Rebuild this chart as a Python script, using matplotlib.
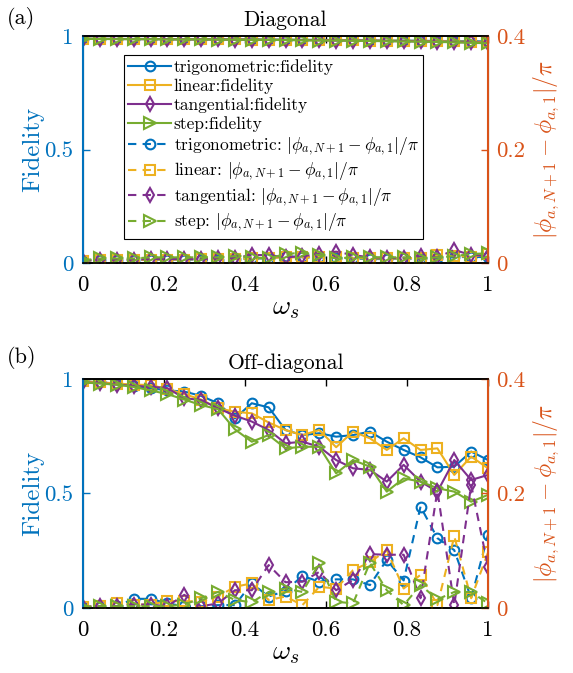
import numpy as np
import matplotlib
matplotlib.use("Agg")
import matplotlib.pyplot as plt

plt.rcParams['font.family'] = 'serif'
plt.rcParams['font.serif'] = ['cmr10', 'DejaVu Serif']
plt.rcParams['mathtext.fontset'] = 'cm'
plt.rcParams['axes.formatter.use_mathtext'] = True
plt.rcParams['axes.unicode_minus'] = False

omega_s = np.linspace(0, 1, 25)
methods = ['trigonometric', 'linear', 'tangential', 'step']

# (a) Diagonal: fidelity (left axis)
fid_a_trig = [0.988, 0.988, 0.987, 0.987, 0.987, 0.986, 0.986, 0.986, 0.985, 0.985, 0.985, 0.984, 0.984,
              0.983, 0.983, 0.982, 0.982, 0.981, 0.980, 0.980, 0.979, 0.978, 0.978, 0.977, 0.976]
fid_a_lin = [0.988, 0.988, 0.987, 0.987, 0.987, 0.986, 0.986, 0.986, 0.985, 0.985, 0.984, 0.984, 0.983,
             0.983, 0.982, 0.982, 0.981, 0.980, 0.980, 0.979, 0.978, 0.977, 0.976, 0.975, 0.973]
fid_a_tan = [0.987, 0.987, 0.987, 0.986, 0.986, 0.986, 0.985, 0.985, 0.985, 0.984, 0.984, 0.983, 0.983,
             0.982, 0.981, 0.980, 0.980, 0.979, 0.978, 0.977, 0.976, 0.975, 0.973, 0.972, 0.970]
fid_a_step = [0.987, 0.987, 0.986, 0.986, 0.986, 0.985, 0.985, 0.985, 0.984, 0.984, 0.983, 0.983, 0.982,
              0.981, 0.980, 0.980, 0.979, 0.978, 0.977, 0.976, 0.975, 0.974, 0.972, 0.970, 0.968]

# (a) Diagonal: |phi_{a,N+1} - phi_{a,1}| / pi (right axis)
ph_a_trig = [0.004, 0.005, 0.005, 0.005, 0.006, 0.006, 0.006, 0.006, 0.006, 0.007, 0.008, 0.008, 0.012,
             0.010, 0.010, 0.009, 0.008, 0.007, 0.007, 0.008, 0.008, 0.009, 0.010, 0.011, 0.010]
ph_a_lin = [0.004, 0.005, 0.005, 0.005, 0.006, 0.006, 0.006, 0.007, 0.007, 0.007, 0.008, 0.009, 0.010,
            0.010, 0.011, 0.010, 0.009, 0.008, 0.008, 0.008, 0.009, 0.014, 0.012, 0.011, 0.015]
ph_a_tan = [0.004, 0.006, 0.006, 0.006, 0.007, 0.007, 0.007, 0.007, 0.008, 0.009, 0.014, 0.014, 0.010,
            0.012, 0.016, 0.020, 0.014, 0.010, 0.009, 0.009, 0.012, 0.010, 0.023, 0.014, 0.013]
ph_a_step = [0.005, 0.008, 0.008, 0.008, 0.010, 0.010, 0.010, 0.010, 0.010, 0.012, 0.010, 0.008, 0.016,
             0.018, 0.014, 0.008, 0.010, 0.010, 0.010, 0.010, 0.008, 0.010, 0.012, 0.016, 0.017]

# (b) Off-diagonal: fidelity (left axis)
fid_b_trig = [0.990, 0.985, 0.980, 0.970, 0.960, 0.950, 0.945, 0.926, 0.894, 0.828, 0.894, 0.876, 0.777,
              0.755, 0.763, 0.748, 0.755, 0.770, 0.726, 0.690, 0.658, 0.614, 0.617, 0.683, 0.646]
fid_b_lin = [0.990, 0.985, 0.980, 0.975, 0.974, 0.955, 0.934, 0.910, 0.872, 0.857, 0.850, 0.810, 0.777,
             0.755, 0.777, 0.702, 0.770, 0.741, 0.690, 0.741, 0.690, 0.697, 0.581, 0.661, 0.610]
fid_b_tan = [0.985, 0.982, 0.975, 0.970, 0.966, 0.960, 0.916, 0.908, 0.872, 0.840, 0.814, 0.777, 0.719,
             0.726, 0.704, 0.646, 0.610, 0.603, 0.552, 0.625, 0.552, 0.508, 0.646, 0.559, 0.581]
fid_b_step = [0.985, 0.980, 0.975, 0.965, 0.950, 0.934, 0.910, 0.886, 0.868, 0.780, 0.726, 0.755, 0.697,
              0.704, 0.704, 0.588, 0.646, 0.617, 0.508, 0.566, 0.552, 0.523, 0.508, 0.464, 0.494]

# (b) Off-diagonal: phase difference (right axis)
ph_b_trig = [0.002, 0.002, 0.003, 0.016, 0.016, 0.008, 0.003, 0.003, 0.005, 0.005, 0.043, 0.020, 0.030,
             0.056, 0.046, 0.050, 0.050, 0.040, 0.084, 0.048, 0.177, 0.122, 0.101, 0.017, 0.128]
ph_b_lin = [0.002, 0.003, 0.009, 0.006, 0.006, 0.012, 0.012, 0.011, 0.020, 0.037, 0.043, 0.014, 0.020,
            0.005, 0.037, 0.034, 0.066, 0.080, 0.101, 0.034, 0.058, 0.005, 0.125, 0.017, 0.097]
ph_b_tan = [0.002, 0.003, 0.003, 0.006, 0.006, 0.003, 0.023, 0.003, 0.008, 0.031, 0.031, 0.075, 0.045,
            0.046, 0.063, 0.031, 0.049, 0.094, 0.093, 0.093, 0.017, 0.205, 0.005, 0.215, 0.072]
ph_b_step = [0.002, 0.003, 0.003, 0.003, 0.003, 0.003, 0.006, 0.017, 0.028, 0.014, 0.010, 0.028, 0.034,
             0.028, 0.078, 0.011, 0.008, 0.079, 0.031, 0.005, 0.040, 0.015, 0.028, 0.028, 0.008]

colors = ['#0072BD', '#EDB120', '#7E2F8E', '#77AC30']
markers = ['o', 's', 'd', '>']
msizes = [7, 6.5, 7.5, 8.5]
blue = '#0072BD'
orange = '#D95319'

panels = [
    ('(a)', 'Diagonal', [fid_a_trig, fid_a_lin, fid_a_tan, fid_a_step],
     [ph_a_trig, ph_a_lin, ph_a_tan, ph_a_step], [0.1449, 0.6092, 0.7068, 0.3373], 0.973),
    ('(b)', 'Off-diagonal', [fid_b_trig, fid_b_lin, fid_b_tan, fid_b_step],
     [ph_b_trig, ph_b_lin, ph_b_tan, ph_b_step], [0.1449, 0.0966, 0.7068, 0.3403], 0.4695),
]

fig = plt.figure(figsize=(5.73, 6.73), dpi=100)
phase_label = r'$|\phi_{a,N+1}-\phi_{a,1}|/\pi$'

for k, (tag, title, fids, phs, rect, tag_y) in enumerate(panels):
    ax = fig.add_axes(rect)
    ax2 = ax.twinx()
    handles = []
    for c, m, ms, f, name in zip(colors, markers, msizes, fids, methods):
        h, = ax.plot(omega_s, f, color=c, marker=m, ms=ms, mfc='none', mew=1.5, lw=1.5,
                     label=name + ':fidelity')
        handles.append(h)
    for c, m, ms, p, name in zip(colors, markers, msizes, phs, methods):
        h, = ax2.plot(omega_s, p, color=c, marker=m, ms=ms, mfc='none', mew=1.5, lw=1.5,
                      ls=(0, (4, 3)), label=name + ': ' + phase_label)
        handles.append(h)

    ax.set_xlim(0, 1)
    ax.set_ylim(0, 1)
    ax2.set_ylim(0, 0.4)
    ax.set_xticks([0, 0.2, 0.4, 0.6, 0.8, 1])
    ax.set_xticklabels(['0', '0.2', '0.4', '0.6', '0.8', '1'])
    ax.set_yticks([0, 0.5, 1])
    ax.set_yticklabels(['0', '0.5', '1'])
    ax2.set_yticks([0, 0.2, 0.4])
    ax2.set_yticklabels(['0', '0.2', '0.4'])

    ax.tick_params(axis='x', direction='in', top=True, length=5, width=1, labelsize=16.5, pad=9)
    ax.tick_params(axis='y', direction='in', length=5, width=1, colors=blue, labelsize=16.5, pad=7)
    ax2.tick_params(axis='y', direction='in', length=5, width=1, colors=orange, labelsize=16.5, pad=6)

    for a in (ax, ax2):
        a.spines['top'].set_linewidth(1.2)
        a.spines['bottom'].set_linewidth(1.2)
    ax2.spines['left'].set_color(blue)
    ax2.spines['left'].set_linewidth(1.5)
    ax2.spines['right'].set_color(orange)
    ax2.spines['right'].set_linewidth(1.5)

    ax.set_xlabel(r'$\omega_s$', fontsize=20, labelpad=0)
    ax.set_ylabel('Fidelity', color=blue, fontsize=18, labelpad=0)
    ax2.set_ylabel(phase_label, color=orange, fontsize=17, labelpad=4)
    ax.set_title(title, fontsize=15.5, pad=7)
    fig.text(0.012, tag_y, tag, fontsize=16, ha='left', va='center')

    if k == 0:
        leg = ax2.legend(handles=handles, loc='upper left', bbox_to_anchor=(0.1, 0.916),
                         fontsize=12.5, frameon=True, fancybox=False, edgecolor='black',
                         framealpha=1, handlelength=2.5, handletextpad=0.15,
                         labelspacing=0.18, borderpad=0.25, borderaxespad=0)
        leg.get_frame().set_linewidth(0.8)

fig.savefig('out.png', dpi=100)
